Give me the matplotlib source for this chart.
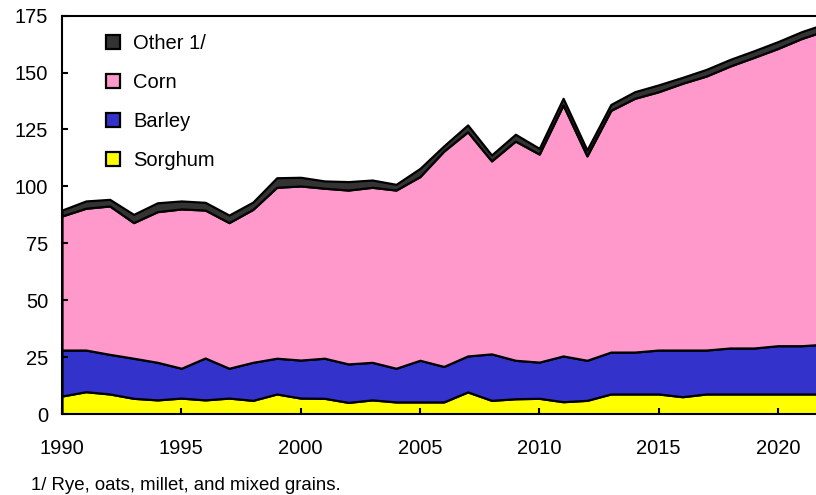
import numpy as np
import matplotlib
matplotlib.use("Agg")
import matplotlib.pyplot as plt

plt.rcParams['font.family'] = ['Liberation Sans', 'DejaVu Sans']

years = list(range(1990, 2023))
sorghum = [7.9, 9.8, 8.8, 6.9, 6.2, 7.0, 6.2, 7.0, 6.0, 8.8,
           7.0, 6.9, 5.1, 6.2, 5.3, 5.3, 5.3, 9.7, 6.0, 6.7,
           6.9, 5.4, 6.0, 8.8, 8.8, 8.8, 7.6, 8.8, 8.8, 8.8,
           8.8, 8.8, 8.8]
barley = [20.2, 18.3, 17.4, 17.6, 16.5, 13.1, 18.4, 13.1, 16.7, 15.7,
          16.7, 17.6, 16.9, 16.5, 14.8, 18.3, 15.6, 15.8, 20.4, 16.9,
          15.9, 20.1, 17.6, 18.4, 18.4, 19.3, 20.5, 19.3, 20.2, 20.2,
          21.2, 21.2, 21.9]
corn = [58.9, 62.3, 65.2, 59.6, 66.2, 70.0, 65.0, 64.0, 67.2, 75.1,
        76.5, 74.7, 76.4, 76.9, 78.3, 80.7, 94.6, 98.5, 84.8, 96.3,
        91.4, 110.3, 89.8, 106.2, 111.5, 113.5, 117.2, 120.4, 123.9, 127.7,
        130.6, 135.0, 137.8]
other = [2.6, 3.2, 2.9, 3.6, 3.9, 3.5, 3.4, 3.3, 3.2, 4.2,
         3.8, 3.2, 3.7, 3.2, 2.5, 3.6, 2.3, 3.0, 2.6, 3.0,
         2.5, 2.9, 2.6, 2.6, 2.9, 3.0, 2.6, 2.9, 2.9, 2.9,
         3.0, 3.0, 3.0]
labels = ["Sorghum", "Barley", "Corn", "Other 1/"]
colors = ["#FFFF00", "#3333CC", "#FF99CC", "#333333"]

fig = plt.figure(figsize=(8.16, 4.95), dpi=100)
ax = fig.add_axes([62/816, 1 - 414/495, (825.6 - 62)/816, (414 - 15.7)/495])

polys = ax.stackplot(years, sorghum, barley, corn, other, labels=labels,
                     colors=colors, edgecolor="black", linewidth=1.6)

ax.set_xlim(1990, 2022)
ax.set_ylim(0, 175)
ax.set_xticks(range(1990, 2021, 5))
ax.set_yticks(range(0, 176, 25))
ax.tick_params(direction="in", length=4, width=1.5, labelsize=14.5)
ax.tick_params(axis="x", pad=18)
ax.tick_params(axis="y", pad=10)
for s in ax.spines.values():
    s.set_linewidth(1.5)

leg = ax.legend(polys[::-1], labels[::-1], loc="upper left",
                bbox_to_anchor=(0.058, 0.953), frameon=False, fontsize=14.5,
                handlelength=0.7, handleheight=0.7, handletextpad=0.65,
                labelspacing=0.98, borderpad=0, borderaxespad=0)

fig.text(31/816, 1 - 486/495, "1/ Rye, oats, millet, and mixed grains.",
         fontsize=13.4, va="center", ha="left")

fig.savefig("out.png", dpi=100)
